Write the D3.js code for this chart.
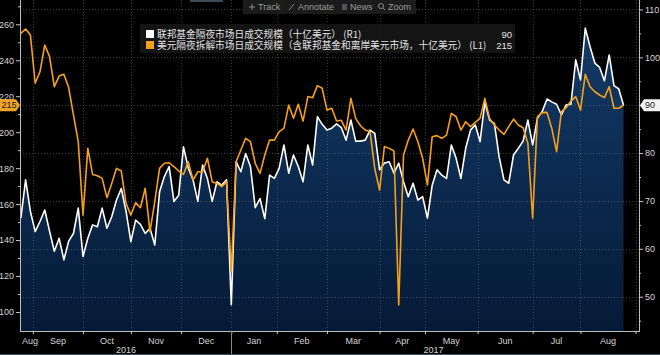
<!DOCTYPE html>
<html><head><meta charset="utf-8">
<script src="https://cdn.jsdelivr.net/npm/d3@7/dist/d3.min.js"></script>
<style>
html,body{margin:0;padding:0;background:#000;}
svg{display:block;}
</style></head>
<body>
<script>
// ---- data (samples every 2 trading days, starting late Aug 2016) ----
const sampleStep = 2; // trading days between samples
const fedFunds = [66.4,74.4,67.8,63.6,65.7,68.1,63.7,59.5,62.2,57.7,61.6,63.2,68.5,58.4,62.2,65,64.6,68.5,64.3,66.7,
70.2,72.6,67.8,61.5,66,65.1,63.2,64.3,60.8,71.9,75.1,77.2,69.9,71.2,81.3,76.9,74.4,69.9,77.5,74.7,
69.9,74,73.3,74.4,48.3,78.2,76.1,79.9,77.2,68.6,70.5,66.3,75.4,74.7,76.8,81.7,75.8,79.6,77.2,74,
81.7,77.5,87.6,86,84.8,85.2,86.1,85.3,82.7,86.9,82.5,82.5,82.7,84.8,84.1,76.5,77.9,78.2,75.8,77.9,
74,70.9,73.7,70.2,70.9,66.4,73.3,76.5,75.4,74.7,81.7,78.9,74.7,81,84.8,85.9,82.4,90.6,86.9,86.2,
79.2,74.4,73.7,79.6,81,82.5,86.9,81.7,87.3,88.7,91.3,90.7,90.2,88,90.1,90.2,99.5,95.3,106.1,102.2,
98.8,97.9,95.1,100.5,94.1,93.4,90];
const obfr = [255,257.4,254,227.2,233.6,248.5,242,225.3,231.2,232.2,224.8,209.6,194.7,153.9,191,176.5,175.8,174.3,163.6,171.5,
179.9,178.4,160.4,153.9,160.8,158,168.8,144.7,161.4,179.9,182.7,183,180.8,178.4,176.5,183.6,173.4,178,178,185.5,
172.5,171.5,169.7,172.5,122.4,183.6,190.1,196.6,194.7,182.7,177.1,187.3,195.6,195.6,200.3,202.1,215.1,207.7,215.5,206.2,
219.8,219.2,225.9,224.4,212.3,213.3,206.2,206.6,201.2,218.8,207.7,203.6,201.2,200.3,179.5,167.8,192,191,189.5,103.9,
187.3,195.6,201.8,194.7,185.5,170.6,197.5,198.1,196.6,198.4,210.5,208.6,201.2,205.8,203.1,205.5,207.7,218.8,207.7,204,
201.2,198.8,203.1,207.3,204,202.5,193.8,152.1,208.6,210.9,211,202.1,189.2,211.4,213.6,217.3,219.8,212.3,232.2,225.3,
222.5,220.7,219.2,225.3,213.3,213.3,215];
const monthStarts = [0,5,26,46,67,88,107,128,150,169,191,214,234,257]; // trading-day index of boundaries
const monthLabels = ["Aug","Sep","Oct","Nov","Dec","Jan","Feb","Mar","Apr","May","Jun","Jul","Aug"];
const years = [{label:"2016", from:0, to:88},{label:"2017", from:88, to:257}];
const leftMajor = [100,120,140,160,180,200,220,240,260];
const leftMinor = [110,130,150,170,190,210,230,250,270];
const rightMajor = [50,60,70,80,90,100,110];
const rightMinor = [45,55,65,75,85,95,105];
const legendItems = [
  {label:"联邦基金隔夜市场日成交规模（十亿美元） (R1)", value:"90", color:"#ffffff"},
  {label:"美元隔夜拆解市场日成交规模（含联邦基金和离岸美元市场，十亿美元） (L1)", value:"215", color:"#f6a01a"}
];
const toolbar = ["Track","Annotate","News","Zoom"];

// ---- layout ----
const W = 660, H = 355;
const plot = {left:20, right:639, top:0, bottom:331};
const ORANGE = "#f6a01a";

const svg = d3.select("body").append("svg").attr("width",W).attr("height",H)
  .style("font-family","'Liberation Sans', Arial, sans-serif");
svg.append("rect").attr("width",W).attr("height",H).attr("fill","#000");

const x = d3.scaleLinear().domain([0,257]).range([20.84,635.5]);
const yL = d3.scaleLinear().domain([89.43,273.52]).range([plot.bottom, plot.top]);
const yR = d3.scaleLinear().domain([42.83,111.98]).range([plot.bottom, plot.top]);

const defs = svg.append("defs");
const grad = defs.append("linearGradient").attr("id","fillGrad")
  .attr("gradientUnits","userSpaceOnUse").attr("x1",0).attr("y1",0).attr("x2",0).attr("y2",plot.bottom);
grad.append("stop").attr("offset","0%").attr("stop-color","#143d6c");
grad.append("stop").attr("offset","100%").attr("stop-color","#051a36");

// area under fed funds series
const area = d3.area().x((d,i)=>x(i*sampleStep)).y0(plot.bottom).y1(d=>yR(d));
svg.append("path").datum(fedFunds).attr("d",area).attr("fill","url(#fillGrad)");

// grid
const grid = svg.append("g").attr("stroke","#7a7f88").attr("stroke-opacity",0.45)
  .attr("stroke-dasharray","1,2").attr("stroke-width",1);
grid.selectAll("line.h").data(rightMajor).join("line")
  .attr("x1",plot.left).attr("x2",plot.right)
  .attr("y1",d=>Math.round(yR(d))+0.5).attr("y2",d=>Math.round(yR(d))+0.5);
grid.selectAll("line.v").data(monthStarts.slice(1)).join("line")
  .attr("x1",d=>Math.round(x(d))+0.5).attr("x2",d=>Math.round(x(d))+0.5)
  .attr("y1",plot.top).attr("y2",plot.bottom);

// lines
const lineR = d3.line().x((d,i)=>x(i*sampleStep)).y(d=>yR(d));
const lineL = d3.line().x((d,i)=>x(i*sampleStep)).y(d=>yL(d));
svg.append("path").datum(fedFunds).attr("d",lineR).attr("fill","none")
  .attr("stroke","#fff").attr("stroke-width",1.6).attr("stroke-linejoin","round");
svg.append("path").datum(obfr).attr("d",lineL).attr("fill","none")
  .attr("stroke",ORANGE).attr("stroke-width",1.6).attr("stroke-linejoin","round");

// axes
function styleAxis(g){
  g.select(".domain").remove();
  g.selectAll("line").attr("stroke","#c8c8c8");
  g.selectAll("text").attr("fill","#d4d4d4").style("font-size","9px")
    .style("font-family","'Liberation Sans', Arial, sans-serif");
}
const gl = svg.append("g").attr("transform",`translate(${plot.left},0)`);
gl.call(d3.axisLeft(yL).tickValues(leftMajor).tickSize(4).tickPadding(2)).call(styleAxis);
const glm = svg.append("g").attr("transform",`translate(${plot.left},0)`);
glm.call(d3.axisLeft(yL).tickValues(leftMinor).tickSize(2).tickFormat("")).call(styleAxis);
const gr = svg.append("g").attr("transform",`translate(${plot.right},0)`);
gr.call(d3.axisRight(yR).tickValues(rightMajor).tickSize(4).tickPadding(2)).call(styleAxis);
const grm = svg.append("g").attr("transform",`translate(${plot.right},0)`);
grm.call(d3.axisRight(yR).tickValues(rightMinor).tickSize(2).tickFormat("")).call(styleAxis);

svg.append("line").attr("x1",plot.left+0.5).attr("x2",plot.left+0.5).attr("y1",0).attr("y2",plot.bottom)
  .attr("stroke","#bdbdbd");
svg.append("line").attr("x1",plot.right+0.5).attr("x2",plot.right+0.5).attr("y1",0).attr("y2",plot.bottom)
  .attr("stroke","#bdbdbd");
svg.append("line").attr("x1",plot.left).attr("x2",plot.right+1).attr("y1",plot.bottom+0.5).attr("y2",plot.bottom+0.5)
  .attr("stroke","#bdbdbd");

// bottom ticks & month labels
const gb = svg.append("g").attr("transform",`translate(0,${plot.bottom})`);
gb.call(d3.axisBottom(x).tickValues(monthStarts.slice(1)).tickSize(3).tickFormat("")).call(styleAxis);
svg.append("g").selectAll("text").data(monthLabels).join("text")
  .attr("x",(d,i)=>Math.max((x(monthStarts[i])+x(monthStarts[i+1]))/2, 30))
  .attr("y",344).attr("text-anchor","middle").attr("fill","#d4d4d4").style("font-size","9px")
  .text(d=>d);
svg.append("g").selectAll("text").data(years).join("text")
  .attr("x",d=>(x(d.from)+Math.min(x(d.to),plot.right))/2).attr("y",353)
  .attr("text-anchor","middle").attr("fill","#d4d4d4").style("font-size","9px").text(d=>d.label);
svg.append("line").attr("x1",Math.round(x(years[1].from))+0.5).attr("x2",Math.round(x(years[1].from))+0.5)
  .attr("y1",plot.bottom).attr("y2",H).attr("stroke","#888");
svg.append("line").attr("x1",0).attr("x2",W).attr("y1",H-0.5).attr("y2",H-0.5).attr("stroke","#36506a");

// last-value badges
const lastL = obfr[obfr.length-1], lastR = fedFunds[fedFunds.length-1];
const byL = yL(lastL), byR = yR(lastR);
svg.append("path").attr("d",`M0,${byL-6}H16L20,${byL}L16,${byL+6}H0Z`).attr("fill","#f2a32a");
svg.append("text").attr("x",9).attr("y",byL+3.2).attr("text-anchor","middle").attr("fill","#1a1a1a")
  .style("font-size","9px").text(d3.format("d")(lastL));
svg.append("path").attr("d",`M${plot.right+1},${byR}L${plot.right+5},${byR-6}H${W}V${byR+6}H${plot.right+5}Z`)
  .attr("fill","#f2f2f2");
svg.append("text").attr("x",650).attr("y",byR+3.2).attr("text-anchor","middle").attr("fill","#1a1a1a")
  .style("font-size","9px").text(d3.format("d")(lastR));

// toolbar
svg.append("rect").attr("x",190).attr("y",0).attr("width",33).attr("height",2).attr("fill","#3c4a58");
svg.append("rect").attr("x",243).attr("y",0).attr("width",173).attr("height",14).attr("fill","#1b1b1b");
const tbX = [258,298,350,388];
const tb = svg.append("g").attr("fill","#9b9b9b").style("font-size","9px");
tb.selectAll("text").data(toolbar).join("text").attr("x",(d,i)=>tbX[i]).attr("y",10).text(d=>d);
const ic = svg.append("g").attr("stroke","#8a8a8a").attr("fill","none").attr("stroke-width",1);
ic.append("path").attr("d","M249,7H255M252,4V10");
ic.append("path").attr("d","M289,10L294,4");
ic.append("path").attr("d","M342,5H347M342,7H347M342,9H347");
ic.append("circle").attr("cx",381).attr("cy",6).attr("r",2.5);
ic.append("path").attr("d","M383,8L385,10");

// legend
const lg = svg.append("g");
lg.append("rect").attr("x",140).attr("y",24).attr("width",375).attr("height",29)
  .attr("fill","#161616").attr("fill-opacity",0.92);
const rows = lg.selectAll("g.row").data(legendItems).join("g").attr("class","row")
  .attr("transform",(d,i)=>`translate(0,${34+i*11})`);
rows.append("rect").attr("x",146).attr("y",-4).attr("width",8).attr("height",8).attr("fill",d=>d.color);
rows.append("text").attr("x",157).attr("y",4).attr("fill","#e2e2e2")
  .style("font-family","'Noto Sans CJK SC', sans-serif").style("font-size","9.7px").text(d=>d.label);
rows.append("text").attr("x",512).attr("y",4).attr("text-anchor","end").attr("fill","#e2e2e2")
  .style("font-family","'Liberation Sans', Arial, sans-serif").style("font-size","9.5px").text(d=>d.value);
</script>
</body></html>
